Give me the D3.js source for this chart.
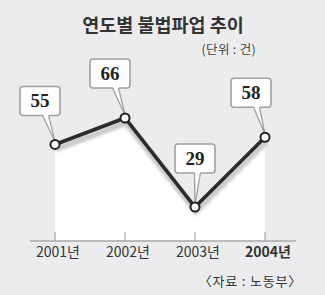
<!DOCTYPE html>
<html>
<head>
<meta charset="utf-8">
<script src="https://cdn.jsdelivr.net/npm/d3@7"></script>
<style>
  html, body { margin: 0; padding: 0; background: #ececee; }
  svg { display: block; }
</style>
</head>
<body>
<div id="chart"></div>
<script>
/* ── DATA ── */
const years   = ['2001년', '2002년', '2003년', '2004년'];
const strikes = [55, 66, 29, 58];
const title   = '연도별 불법파업 추이';
const unit    = '(단위 : 건)';
const source  = '〈자료 : 노동부〉';

/* ── LAYOUT ── */
const W = 325, H = 295;
const SANS  = "'Noto Sans CJK KR', 'Noto Sans', sans-serif";
const SERIF = "'Liberation Serif', 'DejaVu Serif', serif";
const AXIS_Y = 241;
const calloutDx = [-15, -15, 0, -14];   // box centre relative to point
const calloutGap = [29, 30, 34, 30];    // point y minus box bottom
const BOX_W = 40, BOX_H = 29;

const svg = d3.select('#chart').append('svg').attr('width', W).attr('height', H);

const defs = svg.append('defs');
defs.append('filter').attr('id', 'soft')
  .attr('x', '-10%').attr('y', '-30%').attr('width', '120%').attr('height', '160%')
  .append('feGaussianBlur').attr('stdDeviation', 1.6);

const x = d3.scalePoint().domain(years).range([55, 265]);
const y = d3.scaleLinear().domain([29, 66]).range([207, 118]);

const pts = years.map((yr, i) => ({ yr, v: strikes[i], i }));

/* title + unit */
svg.append('text')
  .attr('x', 163).attr('y', 32).attr('text-anchor', 'middle')
  .style('font-family', SANS).style('font-weight', 700).style('font-size', '18.5px')
  .attr('fill', '#333').text(title);

svg.append('text')
  .attr('x', 256).attr('y', 54).attr('text-anchor', 'end')
  .style('font-family', SANS).style('font-size', '12.5px').style('letter-spacing', '0.3px')
  .attr('fill', '#444').text(unit);

/* white area under the line */
const area = d3.area()
  .x(d => x(d.yr)).y0(AXIS_Y - 1).y1(d => y(d.v) + 8);
svg.append('path').datum(pts).attr('d', area).attr('fill', '#fff');

/* soft shadow */
const line = d3.line().x(d => x(d.yr)).y(d => y(d.v));
svg.append('path').datum(pts)
  .attr('d', line).attr('transform', 'translate(1,4.5)')
  .attr('fill', 'none').attr('stroke', '#cacacc').attr('stroke-width', 6)
  .attr('stroke-linejoin', 'miter').attr('filter', 'url(#soft)');

/* axis */
const axis = svg.append('g').attr('transform', `translate(0,${AXIS_Y})`);
axis.append('line')
  .attr('x1', 30).attr('x2', 296).attr('stroke', '#8a8a8a').attr('stroke-width', 1);
axis.selectAll('.tick').data(years).join('line')
  .attr('x1', d => x(d)).attr('x2', d => x(d)).attr('y1', -9).attr('y2', 0)
  .attr('stroke', '#9a9a9a').attr('stroke-width', 1);
axis.selectAll('.lbl').data(years).join('text')
  .attr('x', d => x(d) + 3).attr('y', 16).attr('text-anchor', 'middle')
  .style('font-family', SANS).style('font-size', '14px')
  .style('font-weight', (d, i) => i === years.length - 1 ? 700 : 400)
  .attr('fill', '#333').text(d => d);

/* main line */
svg.append('path').datum(pts)
  .attr('d', line).attr('fill', 'none')
  .attr('stroke', '#2b2b2b').attr('stroke-width', 3.6).attr('stroke-linejoin', 'miter');

/* callouts */
const co = svg.append('g');
pts.forEach(d => {
  const px = x(d.yr), py = y(d.v);
  const cx = px + calloutDx[d.i];
  const bottom = py - calloutGap[d.i];
  const top = bottom - BOX_H;
  const b1 = cx + (d.i === 2 ? -0.5 : 2.5), b2 = b1 + 6;
  const g = co.append('g');
  g.append('rect')
    .attr('x', cx - BOX_W / 2).attr('y', top).attr('width', BOX_W).attr('height', BOX_H)
    .attr('rx', 3).attr('fill', '#fff').attr('stroke', '#a0a0a0').attr('stroke-width', 1.6);
  g.append('path')
    .attr('d', `M${b1},${bottom - 1.5}L${px},${py - 3}L${b2},${bottom - 1.5}Z`)
    .attr('fill', '#fff');
  g.append('path')
    .attr('d', `M${b1},${bottom}L${px},${py - 3}L${b2},${bottom}`)
    .attr('fill', 'none').attr('stroke', '#a0a0a0').attr('stroke-width', 1.3);
  g.append('text')
    .attr('x', cx).attr('y', top + BOX_H / 2 + 6.5).attr('text-anchor', 'middle')
    .style('font-family', SERIF).style('font-weight', 700).style('font-size', '19px')
    .attr('fill', '#222').text(d.v);
});

/* markers */
svg.selectAll('.dot').data(pts).join('circle')
  .attr('cx', d => x(d.yr)).attr('cy', d => y(d.v)).attr('r', 4.5)
  .attr('fill', '#fff').attr('stroke', '#222').attr('stroke-width', 2);

/* source */
svg.append('text')
  .attr('x', 302).attr('y', 286).attr('text-anchor', 'end')
  .style('font-family', SANS).style('font-size', '13px').style('letter-spacing', '0.8px')
  .attr('fill', '#333').text(source);
</script>
</body>
</html>
